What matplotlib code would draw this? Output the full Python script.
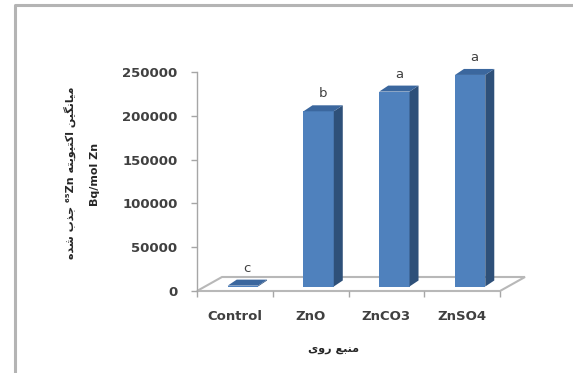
import matplotlib
matplotlib.use("Agg")
import matplotlib.pyplot as plt
from matplotlib.patches import Polygon
from matplotlib.lines import Line2D
from matplotlib.transforms import IdentityTransform, ScaledTranslation

categories = ["Control", "ZnO", "ZnCO3", "ZnSO4"]
activity = [1000, 200000, 222500, 241500]
letters = ["c", "b", "a", "a"]
y_ticks = [0, 50000, 100000, 150000, 200000, 250000]
y_title = "میانگین اکتیویته ⁶⁵Zn جذب شده"
y_unit = "Bq/mol Zn"
x_title = "منبع روی"

# contextual forms: isolated, final, initial, medial (None = no join to the left)
FORMS = {
    "ا": ("\ufe8d", "\ufe8e", None, None),
    "ب": ("\ufe8f", "\ufe90", "\ufe91", "\ufe92"),
    "ت": ("\ufe95", "\ufe96", "\ufe97", "\ufe98"),
    "ج": ("\ufe9d", "\ufe9e", "\ufe9f", "\ufea0"),
    "د": ("\ufea9", "\ufeaa", None, None),
    "ذ": ("\ufeab", "\ufeac", None, None),
    "ر": ("\ufead", "\ufeae", None, None),
    "ش": ("\ufeb5", "\ufeb6", "\ufeb7", "\ufeb8"),
    "ع": ("\ufec9", "\ufeca", "\ufecb", "\ufecc"),
    "م": ("\ufee1", "\ufee2", "\ufee3", "\ufee4"),
    "ن": ("\ufee5", "\ufee6", "\ufee7", "\ufee8"),
    "ه": ("\ufee9", "\ufeea", "\ufeeb", "\ufeec"),
    "و": ("\ufeed", "\ufeee", None, None),
    "ی": ("\ufbfc", "\ufbfd", "\ufbfe", "\ufbff"),
    "ک": ("\ufb8e", "\ufb8f", "\ufb90", "\ufb91"),
    "گ": ("\ufb92", "\ufb93", "\ufb94", "\ufb95"),
}


def shape_word(word):
    out = []
    for i, ch in enumerate(word):
        if ch not in FORMS:
            out.append(ch)
            continue
        prev = word[i - 1] if i > 0 else None
        nxt = word[i + 1] if i + 1 < len(word) else None
        joins_prev = prev in FORMS and FORMS[prev][2] is not None
        joins_next = nxt in FORMS and FORMS[ch][2] is not None
        iso, fin, ini, med = FORMS[ch]
        if joins_prev and joins_next:
            out.append(med)
        elif joins_prev:
            out.append(fin)
        elif joins_next:
            out.append(ini)
        else:
            out.append(iso)
    return "".join(out)


def rtl(text):
    # shape each word, then lay words out right to left
    words = []
    for w in text.split(" "):
        if any(c in FORMS for c in w):
            words.append(shape_word(w)[::-1])
        else:
            words.append(w)
    return " ".join(words[::-1])


W, H = 573, 373
fig = plt.figure(figsize=(W / 100, H / 100), dpi=100)
fig.patch.set_facecolor("white")

ax = fig.add_axes([197 / W, 82 / H, 303 / W, 219 / H])
ax.set_xlim(-0.5, 3.5)
ax.set_ylim(0, 250000)
ax.patch.set_alpha(0)
for s in ["top", "right", "bottom"]:
    ax.spines[s].set_visible(False)
ax.spines["left"].set_color("#a6a6a6")
ax.spines["left"].set_linewidth(1.0)

ax.set_yticks(y_ticks)
ax.set_yticklabels([str(t) for t in y_ticks])
ax.tick_params(axis="y", direction="out", length=4, width=1, color="#a6a6a6",
               pad=10, labelsize=9.5, labelcolor="#404040")
for lab in ax.get_yticklabels():
    lab.set_fontweight("bold")

ax.set_xticks([i - 0.5 for i in range(len(categories) + 1)])
ax.set_xticklabels([])
ax.set_xticks(range(len(categories)), minor=True)
ax.set_xticklabels(categories, minor=True, fontsize=9.5, fontweight="bold", color="#404040")
ax.tick_params(axis="x", which="major", direction="out", length=4, width=1, color="#a6a6a6")
ax.tick_params(axis="x", which="minor", length=0, pad=14)

# floor of the 3-D box
fx0 = ax.transData.transform((-0.5, 0))
fx1 = ax.transData.transform((3.5, 0))
floor = [(fx0[0], fx0[1]), (fx1[0], fx1[1]), (fx1[0] + 25, fx1[1] + 14), (fx0[0] + 25, fx0[1] + 14)]
ax.add_patch(Polygon(floor, closed=True, facecolor="white", edgecolor="#b8b8b8", lw=1.5,
                     transform=IdentityTransform(), clip_on=False, zorder=1))

# bars: front face from ax.bar, side and top faces added in pixels
bw = 0.4
off_x, off_y = 8, 4.5
dx, dy = 9, 6
shift = ax.transData + ScaledTranslation(off_x / 100, off_y / 100, fig.dpi_scale_trans)
ax.bar(range(len(categories)), activity, width=bw, color="#4f81bd", transform=shift,
       clip_on=False, zorder=3)

for i, v in enumerate(activity):
    x0, y0 = ax.transData.transform((i - bw / 2, 0))
    x1, y1 = ax.transData.transform((i + bw / 2, v))
    x0 += off_x; x1 += off_x; y0 += off_y; y1 += off_y
    side = [(x1, y0), (x1 + dx, y0 + dy), (x1 + dx, y1 + dy), (x1, y1)]
    top = [(x0, y1), (x1, y1), (x1 + dx, y1 + dy), (x0 + dx, y1 + dy)]
    ax.add_patch(Polygon(side, closed=True, facecolor="#2e5079", edgecolor="none",
                         transform=IdentityTransform(), clip_on=False, zorder=3))
    ax.add_patch(Polygon(top, closed=True, facecolor="#3b679e", edgecolor="none",
                         transform=IdentityTransform(), clip_on=False, zorder=3))
    ax.annotate(letters[i], (i, v), xytext=((off_x + 4.5) * 0.72, 22 * 0.72),
                textcoords="offset points", ha="center", va="center",
                fontsize=9.5, color="#404040")

# axis titles
fig.text(69.5 / W, 1 - 173 / H, rtl(y_title), rotation=90, ha="center", va="center",
         fontsize=8, fontweight="bold", color="#262626", family="DejaVu Sans")
fig.text(94.5 / W, 1 - 174 / H, y_unit, rotation=90, ha="center", va="center",
         fontsize=8, fontweight="bold", color="#262626")
fig.text(333 / W, 1 - 349 / H, rtl(x_title), ha="center", va="center",
         fontsize=8, fontweight="bold", color="#262626", family="DejaVu Sans")

# outer frame of the chart area
fig.add_artist(Line2D([14.5, 14.5, W], [0, H - 4.5, H - 4.5], transform=IdentityTransform(),
                      color="#b4b4b4", lw=2.2))

fig.savefig("out.png", dpi=100)
